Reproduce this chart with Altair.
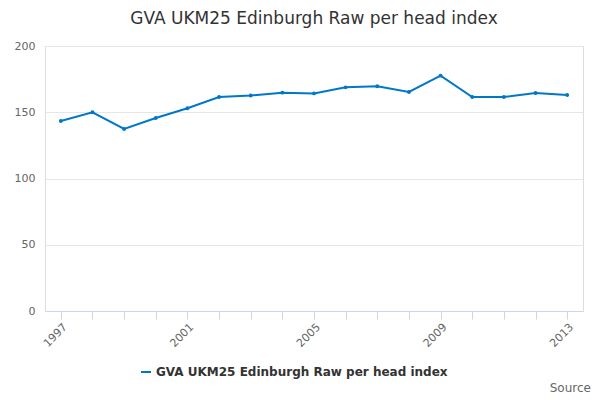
import altair as alt
import pandas as pd

years = list(range(1997, 2014))
values = [143.4, 150.0, 137.4, 145.7, 153.0, 161.5, 162.6, 164.8, 164.2, 168.8, 169.6, 165.3, 177.6, 161.5, 161.5, 164.5, 163.0]
series = "GVA UKM25 Edinburgh Raw per head index"

df = pd.DataFrame({"year": years, "value": values, "series": series})

base = alt.Chart(df).encode(
    x=alt.X(
        "year:Q",
        scale=alt.Scale(domain=[1996.5, 2013.5], nice=False, zero=False),
        axis=alt.Axis(
            title=None, values=years, grid=False, labelAngle=-45,
            labelExpr="(datum.value - 1997) % 4 == 0 ? datum.value : ''",
            tickColor="#ccd6eb", domainColor="#ccd6eb", labelColor="#666666",
            labelFontSize=11, tickSize=8,
        ),
    ),
    y=alt.Y(
        "value:Q",
        scale=alt.Scale(domain=[0, 200]),
        axis=alt.Axis(
            title=None, values=[0, 50, 100, 150, 200], gridColor="#e6e6e6",
            domain=False, ticks=False, labelColor="#666666", labelFontSize=11, labelPadding=10,
        ),
    ),
    color=alt.Color(
        "series:N",
        scale=alt.Scale(range=["#0077c8"]),
        legend=alt.Legend(
            title=None, orient="none", legendX=95, legendY=320,
            labelFontSize=12, labelFontWeight="bold", labelColor="#333333",
            symbolType="stroke", symbolStrokeWidth=2, labelLimit=400,
        ),
    ),
)

line = base.mark_line(strokeWidth=2, point=alt.OverlayMarkDef(size=15, filled=True))

source = alt.Chart(pd.DataFrame({"t": ["Source:"]})).mark_text(
    align="right", fontSize=12, color="#666666"
).encode(x=alt.value(550), y=alt.value(342), text="t:N")

chart = (
    alt.layer(line, source)
    .properties(
        width=538, height=265,
        title=alt.TitleParams(series, fontSize=17, fontWeight="normal", color="#333333", offset=12),
        autosize=alt.AutoSizeParams(type="none"),
        padding={"left": 37, "top": 38, "right": 9, "bottom": 89},
    )
    .configure_view(stroke=None)
    .configure(font="DejaVu Sans")
)

chart.save("out.html", embed_options={"renderer": "svg", "actions": False})
